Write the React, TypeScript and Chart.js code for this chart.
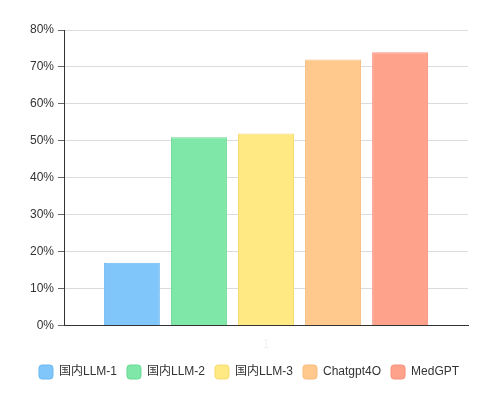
import React, { useEffect, useRef } from "react";
import { Chart, registerables } from "chart.js";

Chart.register(...registerables);

const categories = ["1"];
const seriesNames = ["国内LLM-1", "国内LLM-2", "国内LLM-3", "Chatgpt4O", "MedGPT"];
const seriesValues = [17, 51, 52, 72, 74];
const fillColors = ["#80c6fa", "#7fe8a8", "#ffe982", "#ffc98e", "#ffa28c"];
const borderColors = ["#6cb8f2", "#6bd895", "#f7dc70", "#f7bb7c", "#f7917b"];
const yTicks = [0, 10, 20, 30, 40, 50, 60, 70, 80];

const FONT = "'Liberation Sans', Arial, 'Noto Sans CJK SC', sans-serif";

export default function App() {
  const ref = useRef<HTMLCanvasElement | null>(null);
  useEffect(() => {
    document.body.style.margin = "0";
    if (!ref.current) return;
    const chart = new Chart(ref.current, {
      type: "bar",
      data: {
        labels: categories,
        datasets: seriesNames.map((name, i) => ({
          label: name,
          data: [seriesValues[i]],
          backgroundColor: fillColors[i],
          borderColor: borderColors[i],
          borderWidth: 1,
          barPercentage: 0.835,
          categoryPercentage: 0.83,
        })),
      },
      options: {
        animation: false,
        responsive: false,
        layout: { padding: { top: 30, right: 20, left: 20, bottom: 10 } },
        plugins: {
          tooltip: { enabled: false },
          legend: {
            position: "bottom",
            labels: {
              boxWidth: 14,
              boxHeight: 14,
              useBorderRadius: true,
              borderRadius: 3,
              padding: 10,
              color: "#333",
              font: { family: FONT, size: 12 },
            },
          },
        },
        scales: {
          x: {
            grid: { display: false },
            border: { display: true, color: "#333", width: 1 },
            ticks: { color: "rgba(0,0,0,0.06)", font: { family: FONT, size: 12 }, padding: 3.5 },
          },
          y: {
            min: 0,
            max: 80,
            afterFit: (axis: any) => {
              axis.width = 44;
            },
            afterBuildTicks: (axis: any) => {
              axis.ticks = yTicks.map((v) => ({ value: v }));
            },
            grid: { color: "#dcdcdc", tickLength: 6, tickColor: "#666" },
            border: { display: true, color: "#333", width: 1 },
            ticks: {
              color: "#333",
              padding: 4,
              font: { family: FONT, size: 12 },
              callback: (v: any) => v + "%",
            },
          },
          yRight: {
            position: "right",
            display: true,
            min: 0,
            max: 80,
            afterFit: (axis: any) => {
              axis.width = 10;
            },
            grid: { display: false, drawTicks: false },
            border: { display: false },
            ticks: { display: false },
          },
        },
      },
    });
    return () => chart.destroy();
  }, []);
  return (
    <div style={{ width: 498, height: 399 }}>
      <canvas ref={ref} width={498} height={399} />
    </div>
  );
}
